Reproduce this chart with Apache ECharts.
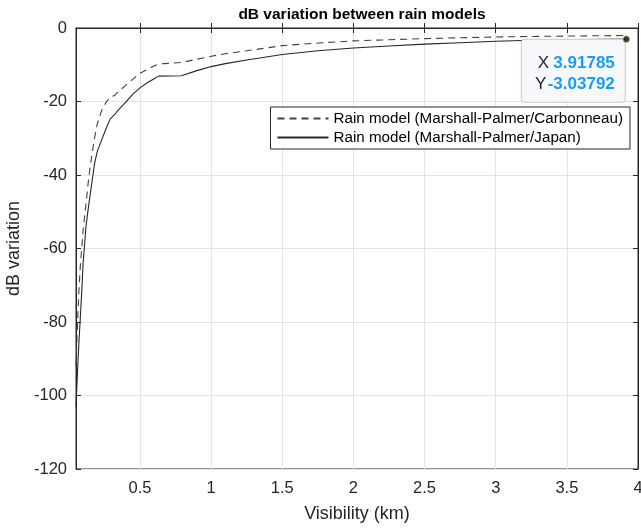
<!DOCTYPE html>
<html><head><meta charset="utf-8">
<script src="https://cdn.jsdelivr.net/npm/echarts@6/dist/echarts.min.js"></script>
<style>html,body{margin:0;padding:0;background:#fff}#c{width:641px;height:528px}</style>
</head><body><div id="c"></div>
<script>
const visibility = [0.05,0.06,0.07,0.08,0.09,0.1,0.12,0.14,0.16,0.18,0.2,0.23,0.26,0.29,0.32,0.35,0.4,0.45,0.5,0.55,0.6,0.63,0.79,0.9,1.0,1.1,1.25,1.5,1.75,2.0,2.25,2.5,2.75,3.0,3.25,3.5,3.75,3.91785];
const carbonneau = [-92,-81,-72,-65,-60,-55,-48,-40.5,-35,-30,-26,-22.5,-20.3,-18.8,-18.4,-17.2,-15.6,-13.9,-12.3,-11.3,-10.3,-9.8,-9.4,-8.5,-7.7,-7.0,-6.2,-4.8,-4.1,-3.5,-3.2,-2.9,-2.65,-2.45,-2.3,-2.2,-2.1,-2.05];
const japan = [-103,-94,-86,-79,-72,-64,-54,-48,-42.5,-37,-33.5,-30.5,-27.5,-24.8,-23.6,-22.2,-20.2,-18,-16.3,-14.9,-13.8,-13.1,-13.0,-11.6,-10.5,-9.7,-8.7,-7.2,-6.2,-5.45,-4.9,-4.4,-4.0,-3.6,-3.35,-3.2,-3.1,-3.03792];
const xTicks = [0.5,1,1.5,2,2.5,3,3.5,4];
const yTicks = [-120,-100,-80,-60,-40,-20,0];
const tipX = 3.91785, tipY = -3.03792;
const seriesNames = ['Rain model (Marshall-Palmer/Carbonneau)','Rain model (Marshall-Palmer/Japan)'];
const title = 'dB variation between rain models';
const xName = 'Visibility (km)', yName = 'dB variation';

const FONT = 'Liberation Sans, Arial, sans-serif';
const AX = '#262626';
const chart = echarts.init(document.getElementById('c'), null, {renderer:'canvas'});
const pairs = (ys) => visibility.map((x,i)=>[x, ys[i]]);
chart.setOption({
  animation:false,
  textStyle:{fontFamily:FONT},
  title:{text:title,left:357,textAlign:'center',top:2,textStyle:{fontFamily:FONT,fontSize:15.5,fontWeight:'bold',color:'#000'}},
  grid:{left:76,right:3,top:28,bottom:59,show:true,borderColor:AX,borderWidth:1,backgroundColor:'#fff',containLabel:false,outerBoundsMode:'none'},
  legend:{
    right:11, top:107, orient:'vertical', align:'left',
    itemWidth:51, itemHeight:16, itemGap:4,
    padding:[4,7,4,6],
    backgroundColor:'#fff', borderColor:AX, borderWidth:1, borderRadius:0,
    itemStyle:{opacity:0, color:'rgba(0,0,0,0)', borderColor:'rgba(0,0,0,0)', borderWidth:0},
    textStyle:{fontFamily:FONT,fontSize:15.2,color:'#000'},
    data:seriesNames
  },
  xAxis:[{
    type:'value', min:0.05, max:4,
    name:xName, nameLocation:'middle', nameGap:36,
    nameTextStyle:{fontFamily:FONT,fontSize:18,color:AX},
    axisLine:{show:true,lineStyle:{color:AX}},
    axisTick:{show:true,inside:true,length:5,customValues:xTicks,lineStyle:{color:AX}},
    axisLabel:{show:true,customValues:xTicks,margin:11,fontFamily:FONT,fontSize:16.5,color:AX,formatter:v=>String(v)},
    splitLine:{show:true,lineStyle:{color:'#e3e3e3'}}
  },{
    type:'value', min:0.05, max:4, position:'top',
    axisLine:{show:true,lineStyle:{color:AX}},
    axisTick:{show:true,inside:true,length:5,customValues:xTicks,lineStyle:{color:AX}},
    axisLabel:{show:false}, splitLine:{show:false}
  }],
  yAxis:[{
    type:'value', min:-120, max:0, interval:20,
    name:yName, nameLocation:'middle', nameGap:52,
    nameTextStyle:{fontFamily:FONT,fontSize:18,color:AX},
    axisLine:{show:true,lineStyle:{color:AX}},
    axisTick:{show:true,inside:true,length:5,lineStyle:{color:AX}},
    axisLabel:{margin:9,fontFamily:FONT,fontSize:16.5,color:AX},
    splitLine:{show:true,lineStyle:{color:'#e3e3e3'}}
  },{
    type:'value', min:-120, max:0, interval:20, position:'right',
    axisLine:{show:true,lineStyle:{color:AX}},
    axisTick:{show:true,inside:true,length:5,lineStyle:{color:AX}},
    axisLabel:{show:false}, splitLine:{show:false}
  }],
  series:[{
    name:seriesNames[0], type:'line', data:pairs(carbonneau), showSymbol:false, symbol:'none',
    lineStyle:{color:'#404040',width:1.1,type:[7,5]}, itemStyle:{color:'#404040'}, z:3
  },{
    name:seriesNames[1], type:'line', data:pairs(japan), showSymbol:false, symbol:'none',
    lineStyle:{color:'#262626',width:1.1,type:'solid'}, itemStyle:{color:'#262626'}, z:4,
    markPoint:{
      symbol:'circle', symbolSize:1,
      itemStyle:{color:'rgba(0,0,0,0)'},
      data:[{coord:[tipX,tipY]}],
      label:{
        show:true, position:[-104,1], align:'left', verticalAlign:'top',
        backgroundColor:'#f7f8fb', borderColor:'#c9c9c9', borderWidth:1, borderRadius:3,
        padding:[13,10,7,15], width:78, lineHeight:21,
        formatter:()=>'{k|X} {v|'+tipX+'}\n{k|Y} {v|'+tipY+'}',
        rich:{
          k:{fontFamily:FONT,fontSize:17,color:'#262626',lineHeight:21,align:'right'},
          v:{fontFamily:FONT,fontSize:17,fontWeight:'bold',color:'#1e9bf0',lineHeight:21,align:'right'}
        }
      }
    }
  },{
    name:'datatip', type:'scatter', data:[[tipX,tipY]], symbol:'circle', symbolSize:7,
    itemStyle:{color:'#111',borderColor:'#e8e070',borderWidth:1}, z:10, silent:true
  }]
});
</script></body></html>
